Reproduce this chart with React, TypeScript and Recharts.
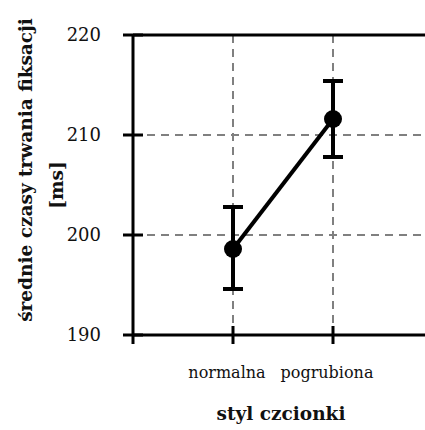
import React from 'react';
import { LineChart, Line, XAxis, YAxis, CartesianGrid, ErrorBar, ReferenceLine } from 'recharts';

const categories = ['normalna', 'pogrubiona'];
const means = [198.6, 211.6];
const errors: [number, number][] = [
  [4.0, 4.2],
  [3.8, 3.8],
];
const yTicks = [190, 200, 210, 220];

const data = categories.map((name, i) => ({ name, value: means[i], err: errors[i] }));

const FONT = "'DejaVu Serif', serif";

const YTick = (props: any) => {
  const { x, y, payload } = props;
  return (
    <g>
      <line x1={x - 10} x2={x + 10} y1={y} y2={y} stroke="#000" strokeWidth={3} />
      {payload.value === 190 && <line x1={x} x2={x} y1={y} y2={y + 9} stroke="#000" strokeWidth={3} />}
      <text x={x - 32} y={y} dy="0.35em" textAnchor="end" style={{ fontFamily: FONT, fontSize: 18 }} fill="#111">
        {payload.value}
      </text>
    </g>
  );
};

const XTick = (props: any) => {
  const { x, y, payload } = props;
  return (
    <g>
      <line x1={x} x2={x} y1={y - 9} y2={y + 9} stroke="#000" strokeWidth={3} />
      <text x={x - 6} y={y + 43} textAnchor="middle" style={{ fontFamily: FONT, fontSize: 16 }} fill="#111">
        {payload.value}
      </text>
    </g>
  );
};

const YLabel = (props: any) => {
  const vb = props.viewBox || {};
  const cy = (vb.y ?? 35) + (vb.height ?? 300) / 2;
  return (
    <g style={{ fontFamily: FONT, fontSize: 18.5, fontWeight: 'bold' }} fill="#111">
      <text x={32} y={cy - 15} textAnchor="middle" transform={`rotate(-90 32 ${cy - 15})`}>
        średnie czasy trwania fiksacji
      </text>
      <text x={63} y={cy} textAnchor="middle" transform={`rotate(-90 63 ${cy})`}>
        [ms]
      </text>
    </g>
  );
};

const XLabel = (props: any) => {
  const vb = props.viewBox || {};
  const cx = (vb.x ?? 133) + (vb.width ?? 300) / 2;
  return (
    <text x={cx - 2} y={420} textAnchor="middle" style={{ fontFamily: FONT, fontSize: 18.5, fontWeight: 'bold' }} fill="#111">
      styl czcionki
    </text>
  );
};

export default function App() {
  return (
    <div style={{ position: 'absolute', left: 0, top: 0, width: 425, height: 430, overflow: 'hidden', background: '#fff' }}>
      <LineChart width={433} height={430} data={data} margin={{ top: 35, right: 0, bottom: 0, left: 0 }}>
        <CartesianGrid stroke="#808080" strokeWidth={2} strokeDasharray="8 6" />
        <XAxis
          dataKey="name"
          padding={{ left: 100, right: 100 }}
          height={95}
          tickSize={0}
          tickMargin={0}
          interval={0}
          axisLine={{ stroke: '#000', strokeWidth: 3 }}
          tickLine={false}
          tick={<XTick />}
          label={<XLabel />}
        />
        <YAxis
          width={133}
          domain={[190, 220]}
          ticks={yTicks}
          tickSize={0}
          tickMargin={0}
          axisLine={{ stroke: '#000', strokeWidth: 3 }}
          tickLine={false}
          tick={<YTick />}
          label={<YLabel />}
        />
        <ReferenceLine y={220} stroke="#000" strokeWidth={3} />
        <Line
          dataKey="value"
          stroke="#000"
          strokeWidth={4}
          dot={{ r: 9, fill: '#000', stroke: '#000', strokeWidth: 0 }}
          isAnimationActive={false}
        >
          <ErrorBar dataKey="err" width={10} strokeWidth={4} stroke="#000" direction="y" />
        </Line>
      </LineChart>
    </div>
  );
}
